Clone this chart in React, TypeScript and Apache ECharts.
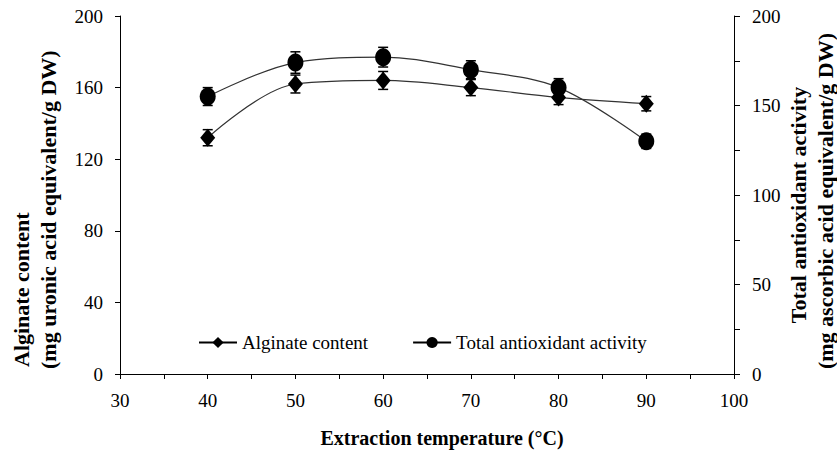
import React, { useEffect, useRef } from "react";
import * as echarts from "echarts";

const temperatures = [40, 50, 60, 70, 80, 90];
const alginate = [132, 162, 164, 160, 154.5, 151];
const alginateErr = [4.5, 5, 5, 4.5, 4, 4];
const antioxidant = [155, 174, 177, 170, 160, 130];
const antioxidantErr = [5, 6, 5.5, 5, 5, 4];

const FONT = "Liberation Serif";

function errRender(params: any, api: any) {
  const x = api.value(0);
  const lo = api.value(1);
  const hi = api.value(2);
  const pTop = api.coord([x, hi]);
  const pBot = api.coord([x, lo]);
  const cap = 5;
  const style = { stroke: "#000", lineWidth: 1.5 };
  return {
    type: "group",
    children: [
      { type: "line", shape: { x1: pTop[0], y1: pTop[1], x2: pBot[0], y2: pBot[1] }, style },
      { type: "line", shape: { x1: pTop[0] - cap, y1: pTop[1], x2: pTop[0] + cap, y2: pTop[1] }, style },
      { type: "line", shape: { x1: pBot[0] - cap, y1: pBot[1], x2: pBot[0] + cap, y2: pBot[1] }, style },
    ],
  };
}

export default function App() {
  const ref = useRef<HTMLDivElement>(null);
  useEffect(() => {
    if (!ref.current) return;
    const chart = echarts.init(ref.current, null, { renderer: "svg" });
    const algData = temperatures.map((t, i) => [t, alginate[i]]);
    const antData = temperatures.map((t, i) => [t, antioxidant[i]]);
    const algErrData = temperatures.map((t, i) => [t, alginate[i] - alginateErr[i], alginate[i] + alginateErr[i]]);
    const antErrData = temperatures.map((t, i) => [t, antioxidant[i] - antioxidantErr[i], antioxidant[i] + antioxidantErr[i]]);
    const labelStyle = { color: "#000", fontFamily: FONT, fontSize: 19 };
    const titleStyle = (text: string, align: string, size: number) => ({
      text,
      fill: "#000",
      fontFamily: FONT,
      fontWeight: "bold",
      fontSize: size,
      align,
      verticalAlign: "middle",
    });
    chart.setOption({
      animation: false,
      backgroundColor: "#fff",
      textStyle: { fontFamily: FONT },
      grid: { left: 120, right: 103, top: 16, bottom: 81 },
      legend: {
        data: ["Alginate content", "Total antioxidant activity"],
        left: 193,
        top: 328,
        itemWidth: 38,
        itemHeight: 14,
        itemGap: 44,
        textStyle: { color: "#000", fontFamily: FONT, fontSize: 19 },
        lineStyle: { color: "#000", width: 2 },
      },
      xAxis: {
        type: "value",
        min: 30,
        max: 100,
        interval: 5,
        axisLine: { lineStyle: { color: "#000", width: 1 } },
        axisTick: { show: true, length: 5, lineStyle: { color: "#000" } },
        splitLine: { show: false },
        axisLabel: {
          ...labelStyle,
          margin: 17,
          formatter: (v: number) => (v % 10 === 0 ? String(v) : ""),
        },
      },
      yAxis: [
        {
          type: "value",
          min: 0,
          max: 200,
          interval: 40,
          position: "left",
          axisLine: { show: true, lineStyle: { color: "#000", width: 1 } },
          axisTick: { show: true, length: 5, lineStyle: { color: "#000" } },
          splitLine: { show: false },
          axisLabel: { ...labelStyle, margin: 17 },
        },
        {
          type: "value",
          min: 0,
          max: 200,
          interval: 25,
          position: "right",
          axisLine: { show: true, lineStyle: { color: "#000", width: 1 } },
          axisTick: { show: true, length: 6, lineStyle: { color: "#000" } },
          splitLine: { show: false },
          axisLabel: {
            ...labelStyle,
            margin: 18,
            formatter: (v: number) => (v % 50 === 0 ? String(v) : ""),
          },
        },
      ],
      series: [
        {
          type: "custom",
          name: "algErr",
          yAxisIndex: 0,
          renderItem: errRender,
          data: algErrData,
          encode: { x: 0, y: [1, 2] },
          z: 1,
          silent: true,
        },
        {
          type: "custom",
          name: "antErr",
          yAxisIndex: 1,
          renderItem: errRender,
          data: antErrData,
          encode: { x: 0, y: [1, 2] },
          z: 1,
          silent: true,
        },
        {
          type: "line",
          name: "Alginate content",
          yAxisIndex: 0,
          data: algData,
          smooth: 0.35,
          symbol: "diamond",
          symbolSize: [15, 18],
          itemStyle: { color: "#000" },
          lineStyle: { color: "#333", width: 1.2 },
          z: 3,
        },
        {
          type: "line",
          name: "Total antioxidant activity",
          yAxisIndex: 1,
          data: antData,
          smooth: 0.35,
          symbol: "circle",
          symbolSize: [16, 18],
          itemStyle: { color: "#000" },
          lineStyle: { color: "#333", width: 1.2 },
          z: 3,
        },
      ],
      graphic: [
        {
          type: "text",
          x: 21,
          y: 367,
          rotation: Math.PI / 2,
          style: titleStyle("Alginate content", "left", 22),
        },
        {
          type: "text",
          x: 48,
          y: 369,
          rotation: Math.PI / 2,
          style: titleStyle("(mg uronic acid equivalent/g DW)", "left", 22),
        },
        {
          type: "text",
          x: 798,
          y: 205,
          rotation: Math.PI / 2,
          style: titleStyle("Total antioxidant activity", "center", 22),
        },
        {
          type: "text",
          x: 825,
          y: 201,
          rotation: Math.PI / 2,
          style: titleStyle("(mg ascorbic acid equivalent/g DW)", "center", 22),
        },
        {
          type: "text",
          x: 442,
          y: 438,
          style: titleStyle("Extraction temperature (°C)", "center", 20),
        },
      ],
    });
    return () => chart.dispose();
  }, []);
  return <div ref={ref} style={{ position: "fixed", left: 0, top: 0, width: 837, height: 455 }} />;
}
